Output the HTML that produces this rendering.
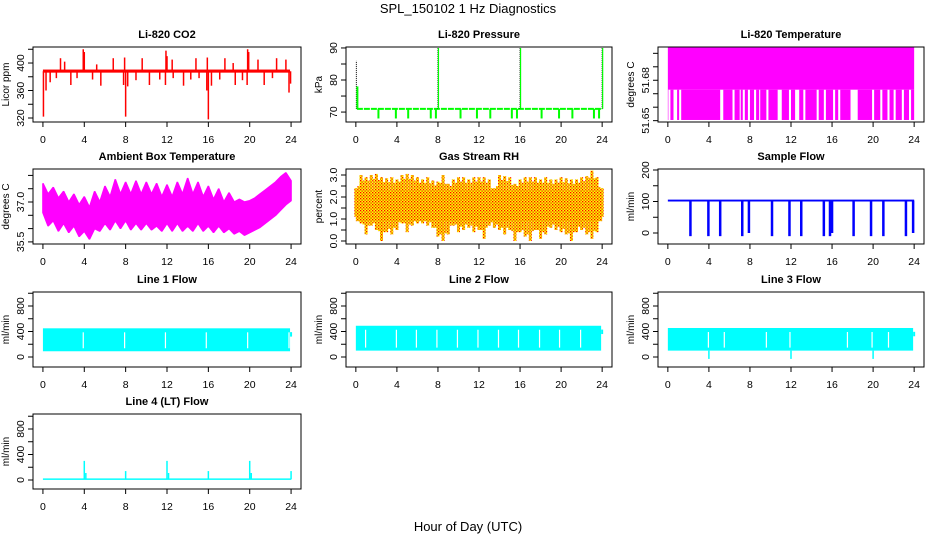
<!DOCTYPE html>
<html><head><meta charset="utf-8"><style>
html,body{margin:0;padding:0;background:#fff}
svg{display:block;font-family:"Liberation Sans",Arial,sans-serif}
</style></head><body>
<svg id="chart" width="936" height="540" viewBox="0 0 936 540">
<defs>
<pattern id="rhpat" width="3" height="3" patternUnits="userSpaceOnUse"><rect width="3" height="3" fill="#ffff00"/><rect x="0" y="0" width="1.3" height="1.3" fill="#ff0000"/><rect x="1.5" y="1.5" width="1.2" height="1.2" fill="#e00000"/></pattern>
</defs>
<text x="468" y="13" text-anchor="middle" font-size="13">SPL_150102  1 Hz Diagnostics</text>
<text x="468" y="531" text-anchor="middle" font-size="13">Hour of Day (UTC)</text>
</svg>
<script>
// ---- data ----
const xTicks = [0,4,8,12,16,20,24];
const co2Base = 388;
const co2SpikeT = [1.7,2.1,3.9,4.0,5.2,6.8,7.9,9.6,11.9,12.0,12.5,14.8,15.9,17.6,18.4,19.8,19.9,20.8,22.6,23.5,
  0.05,0.3,0.7,1.3,2.7,3.3,4.8,5.6,7.8,8.0,8.2,9.0,10.3,11.3,11.85,12.6,13.6,14.3,15.1,15.85,16.0,16.3,17.1,18.6,19.3,19.75,21.4,22.2,23.8,23.95];
const co2SpikeV = [407,402,420,416,398,407,408,407,418,410,405,407,408,407,400,420,416,405,407,405,
  322,360,372,378,368,378,376,367,368,322,366,375,368,376,368,378,367,376,378,360,318,367,376,368,375,368,368,378,357,370];
const presBase = 71;
const presUpT = [0.05,0.15,8.0,16.0,24.0];
const presUpV = [86,78,90,90,90];
const presDownT = [2.2,3.9,5.1,7.3,7.8,10.2,11.8,13.1,15.2,15.7,18.1,19.8,21.1,23.2,23.7];
const presDownV = [68,68,68,68,68,68,68,68,68,68,68,68,68,68,68];
const tempTop = 51.7045, tempMid = 51.673, tempLow = 51.6505;
const tempGapStart = [0.05,0.55,1.1,5.1,6.3,7.0,7.3,7.8,8.4,8.9,9.6,10.7,11.8,12.4,13.2,14.5,15.2,16.1,16.6,17.8,19.9,20.7,21.4,22.0,22.8,23.5];
const tempGapEnd   = [0.25,0.9,1.3,5.4,6.5,7.1,7.5,8.0,8.6,9.0,9.8,11.1,12.0,12.8,13.4,14.7,15.4,16.3,16.8,18.5,20.1,20.9,21.6,22.2,23.0,23.7];
const halfHours = [0,0.5,1,1.5,2,2.5,3,3.5,4,4.5,5,5.5,6,6.5,7,7.5,8,8.5,9,9.5,10,10.5,11,11.5,12,12.5,13,13.5,14,14.5,15,15.5,16,16.5,17,17.5,18,18.5,19,19.5,20,20.5,21,21.5,22,22.5,23,23.5,24];
const ambHi = [37.7,37.3,37.55,37.15,37.4,37.0,37.3,36.9,37.2,36.8,37.4,37.0,37.6,37.2,37.85,37.3,37.75,37.3,37.8,37.3,37.75,37.3,37.7,37.2,37.65,37.2,37.75,37.3,37.9,37.3,37.75,37.2,37.6,37.1,37.5,37.0,37.35,37.0,37.1,37.0,37.05,37.15,37.3,37.45,37.6,37.75,37.95,38.1,37.8];
const ambLo = [36.6,36.1,36.3,35.9,36.2,35.85,36.1,35.7,35.9,35.6,36.0,35.9,36.2,35.95,36.3,36.0,36.3,35.95,36.2,35.95,36.2,35.95,36.1,35.9,36.2,35.9,36.2,35.9,36.1,35.9,36.2,35.9,36.1,35.85,36.1,35.85,36.0,35.8,35.9,35.75,35.85,35.95,36.05,36.2,36.35,36.5,36.7,36.9,37.05];
const rhHi = [2.4,3.0,2.9,3.0,3.05,2.9,2.85,2.9,2.8,3.0,3.05,3.0,2.9,2.8,2.9,2.75,2.7,3.0,2.6,2.8,2.9,2.9,2.8,2.9,2.9,2.9,2.8,2.4,3.0,2.95,2.9,2.6,2.8,2.9,2.9,2.9,2.8,2.9,2.8,2.8,2.9,2.85,2.8,2.8,2.9,2.95,3.2,2.9,2.4];
const rhLo = [1.1,0.8,0.3,0.7,0.5,0.0,0.4,0.3,0.5,0.8,0.4,0.7,0.8,0.8,0.7,0.6,0.2,0.0,0.3,0.7,0.4,0.5,0.6,0.4,0.5,0.1,0.7,0.6,0.5,0.3,0.5,0.0,0.4,0.2,0.0,0.5,0.1,0.3,0.6,0.5,0.4,0.3,0.0,0.4,0.5,0.3,0.1,0.4,1.1];
const rhCoreLo = 0.9, rhCoreHi = 2.3;
const flowBase = 103;
const flowDownT = [2.2,3.95,5.1,7.25,7.9,10.15,11.85,13.0,15.2,15.8,16.0,18.1,19.8,21.0,23.2,23.9];
const flowDownV = [-10,-10,-10,-10,0,-10,-10,-10,-10,-10,0,-10,-10,-10,-10,0];
const line1Lo = 90, line1Hi = 450, line1Gaps = [3.9,7.9,11.85,15.8,19.8,23.8];
const line2Lo = 100, line2Hi = 490, line2Gaps = [0.95,3.95,5.9,7.9,9.9,11.9,13.9,15.85,17.9,19.85,21.9];
const line3Lo = 100, line3Hi = 455, line3Gaps = [3.95,11.9,19.9,5.5,9.6,17.5,21.5];
const line3DipT = [4.0,12.0,20.0];
const line3DipV = [-30,-30,-30];
const line4Base = 10;
const line4SpikeT = [4.0,4.15,8.0,12.0,12.15,16.0,20.0,20.15,24.0];
const line4SpikeV = [300,110,140,300,110,140,300,110,140];

// ---- layout ----
const svg = document.getElementById('chart');
const NS = 'http://www.w3.org/2000/svg';
const COLX = [[33,301],[346,612],[658,924]];
const ROWY = [47,169,292,414];
const BH = 75;
function el(tag, attrs, parent){
  const e = document.createElementNS(NS, tag);
  for (const k in attrs) e.setAttribute(k, attrs[k]);
  (parent||svg).appendChild(e);
  return e;
}
function makePanel(cfg){
  const g = el('g', {});
  
  
  const x1 = COLX[cfg.c][0], x2 = COLX[cfg.c][1], y1 = ROWY[cfg.r], y2 = y1 + BH;
  const sx = h => x1 + (h + 0.96) / 25.92 * (x2 - x1);
  const sy = v => y2 - (v - cfg.ymin) / (cfg.ymax - cfg.ymin) * BH;
  const p = {g, x1, x2, y1, y2, sx, sy};
  const plot = el('g', {}, g);
  
  
  p.plot = plot;
  const t = el('text', {x:(x1+x2)/2, y:y1-9, 'text-anchor':'middle', 'font-size':11, 'font-weight':'bold'}, g);
  t.textContent = cfg.title;
  
  
  const b = el('rect', {x:x1, y:y1, width:x2-x1, height:BH, fill:'none', stroke:'#000', 'stroke-width':1}, g);
  
  
  const xa = el('g', {}, g);
  
  
  el('line', {x1:sx(0), x2:sx(24), y1:y2, y2:y2, stroke:'#000'}, xa);
  xTicks.forEach(v => {
    el('line', {x1:sx(v), x2:sx(v), y1:y2, y2:y2+5, stroke:'#000'}, xa);
    const tl = el('text', {x:sx(v), y:y2+21, 'text-anchor':'middle', 'font-size':10.5}, xa);
    tl.textContent = v;
    
    
  });
  const ya = el('g', {}, g);
  
  
  el('line', {x1:x1, x2:x1, y1:sy(cfg.ticks[0]), y2:sy(cfg.ticks[cfg.ticks.length-1]), stroke:'#000'}, ya);
  cfg.ticks.forEach(v => el('line', {x1:x1-5, x2:x1, y1:sy(v), y2:sy(v), stroke:'#000'}, ya));
  cfg.labels.forEach(l => {
    const yy = sy(parseFloat(l));
    const tl = el('text', {x:x1-9, y:yy, 'text-anchor':'middle', 'font-size':10.5, transform:`rotate(-90 ${x1-9} ${yy})`}, ya);
    tl.textContent = l;
    
    
  });
  const yl = el('text', {x:x1-24, y:(y1+y2)/2, 'text-anchor':'middle', 'font-size':10, transform:`rotate(-90 ${x1-24} ${(y1+y2)/2})`}, g);
  yl.textContent = cfg.ylab;
  
  
  return p;
}
function vline(p, t, a, b, color, w){
  return el('line', {x1:p.sx(t), x2:p.sx(t), y1:p.sy(a), y2:p.sy(b), stroke:color, 'stroke-width':w||1.5}, p.plot);
}
function band(p, t0, t1, lo, hi, fill){
  return el('rect', {x:p.sx(t0), y:p.sy(hi), width:p.sx(t1)-p.sx(t0), height:p.sy(lo)-p.sy(hi), fill:fill}, p.plot);
}

// CO2
let p = makePanel({name:'co2', title:'Li-820 CO2', ylab:'Licor ppm', c:0, r:0, ymin:314.2, ymax:423.3, ticks:[320,340,360,380,400,420], labels:['320','360','400']});
co2SpikeT.forEach((t,i) => { const s = vline(p, t, co2Base, co2SpikeV[i], '#ff0000', 1.5);   });
let m = band(p, 0, 23.9, co2Base-2, co2Base+2.5, '#ff0000');



// Pressure
p = makePanel({name:'pressure', title:'Li-820 Pressure', ylab:'kPa', c:1, r:0, ymin:66.9, ymax:90.3, ticks:[70,75,80,85,90], labels:['70','80','90']});
m = el('line', {x1:p.sx(0.1), x2:p.sx(24), y1:p.sy(presBase), y2:p.sy(presBase), stroke:'#00ff00', 'stroke-width':2, 'stroke-dasharray':'6 1'}, p.plot);


presDownT.forEach((t,i) => { const s = vline(p, t, presBase, presDownV[i], '#00ff00', 2);   });
presUpT.forEach((t,i) => { const s = vline(p, t, presBase, presUpV[i], i===1?'#00ff00':'#000', i===1?2:1); if(i!==1) s.setAttribute('stroke-dasharray','1 1');   if(i>=2){ const s2 = vline(p, t+0.05, presBase, presUpV[i], '#00ff00', 1.2);   } });

// Temperature
p = makePanel({name:'li820-temp', title:'Li-820 Temperature', ylab:'degrees C', c:2, r:0, ymin:51.6490, ymax:51.7047, ticks:[51.65,51.66,51.67,51.68,51.69,51.70], labels:['51.65','51.68']});
m = band(p, 0, 24, tempMid, tempTop, '#ff00ff');


let prev = 0;
tempGapStart.forEach((s,i) => {
  const r = band(p, prev, s, tempLow, tempMid, '#ff00ff');
  
  
  prev = tempGapEnd[i];
});
m = band(p, prev, 24, tempLow, tempMid, '#ff00ff');



// Ambient
p = makePanel({name:'ambient-temp', title:'Ambient Box Temperature', ylab:'degrees C', c:0, r:1, ymin:35.421, ymax:38.241, ticks:[35.5,36,36.5,37,37.5,38], labels:['35.5','37.0']});
let pts = halfHours.map((t,i)=>p.sx(t)+','+p.sy(ambHi[i])).concat(halfHours.map((t,i)=>p.sx(t)+','+p.sy(ambLo[i])).reverse());
m = el('polygon', {points:pts.join(' '), fill:'#ff00ff', stroke:'#ff00ff', 'stroke-width':1.5, 'stroke-linejoin':'bevel'}, p.plot);



// RH
p = makePanel({name:'gas-rh', title:'Gas Stream RH', ylab:'percent', c:1, r:1, ymin:-0.136, ymax:3.273, ticks:[0,0.5,1,1.5,2,2.5,3], labels:['0.0','1.0','2.0','3.0']});
halfHours.forEach((t,i) => {
  const s = el('rect', {x:p.sx(t)-1.5, y:p.sy(rhHi[i]), width:3, height:p.sy(rhLo[i])-p.sy(rhHi[i]), fill:'url(#rhpat)'}, p.plot);
  
  
  if (i < halfHours.length-1) {
    const s2 = el('rect', {x:p.sx(t+0.25)-1, y:p.sy((rhHi[i]+rhHi[i+1])/2-0.2), width:2, height:p.sy((rhLo[i]+rhLo[i+1])/2+0.2)-p.sy((rhHi[i]+rhHi[i+1])/2-0.2), fill:'url(#rhpat)'}, p.plot);
    
    
  }
});
m = band(p, 0, 24, rhCoreLo, rhCoreHi, 'url(#rhpat)');



// Sample flow
p = makePanel({name:'sample-flow', title:'Sample Flow', ylab:'ml/min', c:2, r:1, ymin:-34.9, ymax:203.2, ticks:[0,50,100,150,200], labels:['0','100','200']});
m = band(p, 0, 24, flowBase-3, flowBase+3, '#0000ff');


flowDownT.forEach((t,i) => { const s = vline(p, t, flowBase, flowDownV[i], '#0000ff', 2.5);   });

// Line flows
function flowPanel(name, title, c, lo, hi, gaps){
  const q = makePanel({name:name, title:title, ylab:'ml/min', c:c, r:2, ymin:-156.9, ymax:1019.6, ticks:[0,200,400,600,800,1000], labels:['0','400','800']});
  const bd = band(q, 0, 23.9, lo, hi, '#00ffff');
  
  
  gaps.forEach(t => {
    const w = el('line', {x1:q.sx(t), x2:q.sx(t), y1:q.sy(hi)+4, y2:q.sy(lo)-3, stroke:'#fff', 'stroke-width':1.2}, q.plot);
    
    
  });
  const tl = vline(q, 24.0, hi-60, hi-130, '#00ffff', 2);
  
  
  return q;
}
flowPanel('line1-flow', 'Line 1 Flow', 0, line1Lo, line1Hi, line1Gaps);
flowPanel('line2-flow', 'Line 2 Flow', 1, line2Lo, line2Hi, line2Gaps);
p = flowPanel('line3-flow', 'Line 3 Flow', 2, line3Lo, line3Hi, line3Gaps);
line3DipT.forEach((t,i) => { const s = vline(p, t, line3Lo, line3DipV[i], '#00ffff', 1.5);   });

// Line 4
p = makePanel({name:'line4-flow', title:'Line 4 (LT) Flow', ylab:'ml/min', c:0, r:3, ymin:-141, ymax:1035, ticks:[0,200,400,600,800,1000], labels:['0','400','800']});
m = band(p, 0, 24, line4Base-8, line4Base+15, '#00ffff');


line4SpikeT.forEach((t,i) => { const s = vline(p, t, line4Base, line4SpikeV[i], '#00ffff', 1.5);   });
</script>
</body></html>
